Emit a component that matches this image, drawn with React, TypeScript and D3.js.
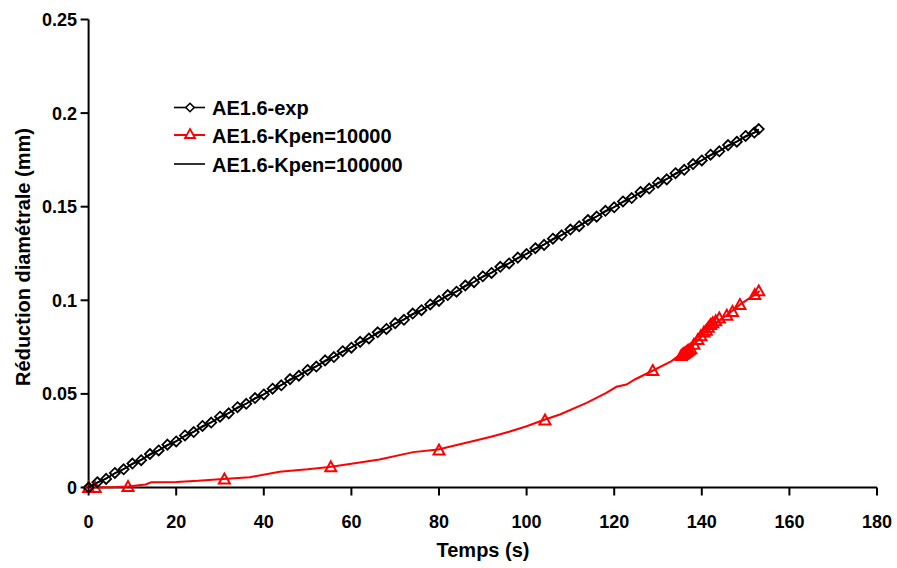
import React from "react";
import * as d3 from "d3";

const xTicks = [0, 20, 40, 60, 80, 100, 120, 140, 160, 180];
const yTicks = [0, 0.05, 0.1, 0.15, 0.2, 0.25];
const yTickLabels = ["0", "0.05", "0.1", "0.15", "0.2", "0.25"];

const seriesNames = ["AE1.6-exp", "AE1.6-Kpen=10000", "AE1.6-Kpen=100000"];

// Experimental (diamonds)
const expT = [0, 2, 4, 6, 8, 10, 12, 14, 16, 18, 20, 22, 24, 26, 28, 30, 32, 34, 36, 38, 40, 42, 44, 46, 48, 50, 52, 54, 56, 58, 60, 62, 64, 66, 68, 70, 72, 74, 76, 78, 80, 82, 84, 86, 88, 90, 92, 94, 96, 98, 100, 102, 104, 106, 108, 110, 112, 114, 116, 118, 120, 122, 124, 126, 128, 130, 132, 134, 136, 138, 140, 142, 144, 146, 148, 150, 152, 153];
const expV = [0, 0.0028, 0.0046, 0.0078, 0.0097, 0.0128, 0.0146, 0.0179, 0.0198, 0.0229, 0.0246, 0.0278, 0.0296, 0.0329, 0.0347, 0.0378, 0.0396, 0.0429, 0.0447, 0.0478, 0.0497, 0.0528, 0.0546, 0.0579, 0.0597, 0.0628, 0.0646, 0.0679, 0.0697, 0.0728, 0.0747, 0.0778, 0.0796, 0.0829, 0.0847, 0.0878, 0.0896, 0.0929, 0.0947, 0.0978, 0.0997, 0.1028, 0.1046, 0.1079, 0.1097, 0.1128, 0.1146, 0.1179, 0.1197, 0.1228, 0.1247, 0.1278, 0.1296, 0.1329, 0.1347, 0.1378, 0.1396, 0.1429, 0.1447, 0.1478, 0.1497, 0.1528, 0.1546, 0.1579, 0.1597, 0.1628, 0.1646, 0.1679, 0.1697, 0.1728, 0.1747, 0.1778, 0.1796, 0.1829, 0.1847, 0.1878, 0.1896, 0.1915];

// Kpen=10000 (red line)
const k1LineT = [0, 5, 9, 13, 14.3, 20, 25, 30.7, 36.8, 43.6, 50, 55, 60, 66.4, 74.1, 79.8, 85, 89.3, 92.3, 96, 100, 104.2, 107.6, 113.7, 118.2, 120.5, 122.8, 124.7, 128.5, 133.1, 135, 137.5, 140, 142.5, 145.7, 148.7, 152.1, 153.2];
const k1LineV = [0, 0.0002, 0.0005, 0.0016, 0.0028, 0.003, 0.0036, 0.0046, 0.0055, 0.0084, 0.0097, 0.011, 0.0127, 0.015, 0.0189, 0.0203, 0.0232, 0.0256, 0.0274, 0.0298, 0.0327, 0.0363, 0.039, 0.0452, 0.0506, 0.0538, 0.055, 0.0577, 0.0621, 0.0675, 0.071, 0.0745, 0.081, 0.087, 0.092, 0.0977, 0.103, 0.105];
// Kpen=10000 markers (triangles)
const k1MarkT = [0, 1.5, 9, 31, 55.3, 80, 104.2, 128.8, 135.3, 135.6, 135.9, 136.2, 136.5, 136.8, 137.1, 137.5, 138.2, 139.1, 139.8, 140.5, 141.0, 141.5, 142.0, 142.5, 143.2, 144.0, 145.7, 147.0, 148.7, 152.1, 153.0];
const k1MarkV = [0, 0, 0.0005, 0.0045, 0.011, 0.02, 0.036, 0.0625, 0.0705, 0.071, 0.0715, 0.072, 0.0725, 0.073, 0.0735, 0.074, 0.0765, 0.079, 0.081, 0.083, 0.084, 0.0855, 0.087, 0.088, 0.089, 0.0905, 0.092, 0.094, 0.0977, 0.103, 0.105];

// Kpen=100000 (black line)
const k2T = [0, 5, 10, 15, 20, 25, 30, 35, 40, 45, 50, 55, 60, 65, 70, 75, 80, 85, 90, 95, 100, 105, 110, 115, 120, 125, 130, 135, 140, 145, 150, 153];
const k2V = [0, 0.0062, 0.0124, 0.0187, 0.0249, 0.0311, 0.0374, 0.0436, 0.0499, 0.0561, 0.0624, 0.0686, 0.0749, 0.0811, 0.0874, 0.0936, 0.0999, 0.1061, 0.1124, 0.1186, 0.1249, 0.1311, 0.1374, 0.1436, 0.1499, 0.1561, 0.1624, 0.1686, 0.1749, 0.1811, 0.1874, 0.1905];

const W = 897;
const H = 568;
const FONT = "'Liberation Sans', Arial, sans-serif";

export default function App() {
  const x = d3.scaleLinear().domain([0, 180]).range([88.6, 877]);
  const y = d3.scaleLinear().domain([0, 0.25]).range([487.5, 19.5]);

  const line = d3
    .line<[number, number]>()
    .x((d) => x(d[0]))
    .y((d) => y(d[1]));

  const expPts: [number, number][] = expT.map((t, i) => [t, expV[i]]);
  const k1Line: [number, number][] = k1LineT.map((t, i) => [t, k1LineV[i]]);
  const k1Marks: [number, number][] = k1MarkT.map((t, i) => [t, k1MarkV[i]]);
  const k2Pts: [number, number][] = k2T.map((t, i) => [t, k2V[i]]);

  const diamond = (cx: number, cy: number, r = 5) =>
    `M${cx},${cy - r}L${cx + r},${cy}L${cx},${cy + r}L${cx - r},${cy}Z`;
  const tri = (cx: number, cy: number, s = 5.5) =>
    `M${cx},${cy - s}L${cx + s},${cy + s * 0.8}L${cx - s},${cy + s * 0.8}Z`;

  const legendRows = [107.5, 135, 164];
  const lx1 = 174;
  const lx2 = 205;
  const lmx = 190;

  return (
    <svg
      width={W}
      height={H}
      style={{ position: "absolute", left: 0, top: 0, background: "#fff" }}
      fontFamily={FONT}
    >
      <rect x={0} y={0} width={W} height={H} fill="#fff" />
      {/* axes */}
      <line x1={x(0)} x2={x(180)} y1={y(0)} y2={y(0)} stroke="#000" strokeWidth={2} />
      <line x1={x(0)} x2={x(0)} y1={y(0)} y2={y(0.25)} stroke="#000" strokeWidth={2} />
      {xTicks.map((t) => (
        <g key={"xt" + t}>
          <line x1={x(t)} x2={x(t)} y1={y(0)} y2={y(0) + 8} stroke="#000" strokeWidth={2} />
          <text x={x(t)} y={528} textAnchor="middle" fontSize={18} fontWeight="bold">
            {t}
          </text>
        </g>
      ))}
      {yTicks.map((v, i) => (
        <g key={"yt" + v}>
          <line x1={x(0) - 8} x2={x(0)} y1={y(v)} y2={y(v)} stroke="#000" strokeWidth={2} />
          <text x={77} y={y(v) + 6.5} textAnchor="end" fontSize={18} fontWeight="bold">
            {yTickLabels[i]}
          </text>
        </g>
      ))}
      <text x={483} y={557} textAnchor="middle" fontSize={20} fontWeight="bold">
        Temps (s)
      </text>
      <text
        transform="translate(30,257) rotate(-90)"
        textAnchor="middle"
        fontSize={20}
        fontWeight="bold"
      >
        Réduction diamétrale (mm)
      </text>

      {/* Kpen=10000 */}
      <path d={line(k1Line) || ""} fill="none" stroke="#ff0000" strokeWidth={2} />
      {k1Marks.map((p, i) => (
        <path key={"tr" + i} d={tri(x(p[0]), y(p[1]))} fill="none" stroke="#ff0000" strokeWidth={2} />
      ))}

      {/* Exp */}
      <path d={line(expPts) || ""} fill="none" stroke="#000" strokeWidth={1.6} />
      {expPts.map((p, i) => (
        <path key={"dm" + i} d={diamond(x(p[0]), y(p[1]))} fill="none" stroke="#000" strokeWidth={1.8} />
      ))}

      {/* Kpen=100000 */}
      <path d={line(k2Pts) || ""} fill="none" stroke="#000" strokeWidth={1.6} />

      {/* legend */}
      <g>
        <line x1={lx1} x2={lx2} y1={legendRows[0]} y2={legendRows[0]} stroke="#000" strokeWidth={1.6} />
        <path d={diamond(lmx, legendRows[0], 4.2)} fill="#fff" stroke="#000" strokeWidth={1.6} />
        <line x1={lx1} x2={lx2} y1={legendRows[1]} y2={legendRows[1]} stroke="#ff0000" strokeWidth={2} />
        <path d={tri(lmx, legendRows[1] - 1, 5)} fill="#fff" stroke="#ff0000" strokeWidth={1.8} />
        <line x1={lx1} x2={lx2} y1={legendRows[2]} y2={legendRows[2]} stroke="#000" strokeWidth={1.6} />
        {seriesNames.map((n, i) => (
          <text key={n} x={212} y={legendRows[i] + 7.5} fontSize={20} fontWeight="bold">
            {n}
          </text>
        ))}
      </g>
    </svg>
  );
}
